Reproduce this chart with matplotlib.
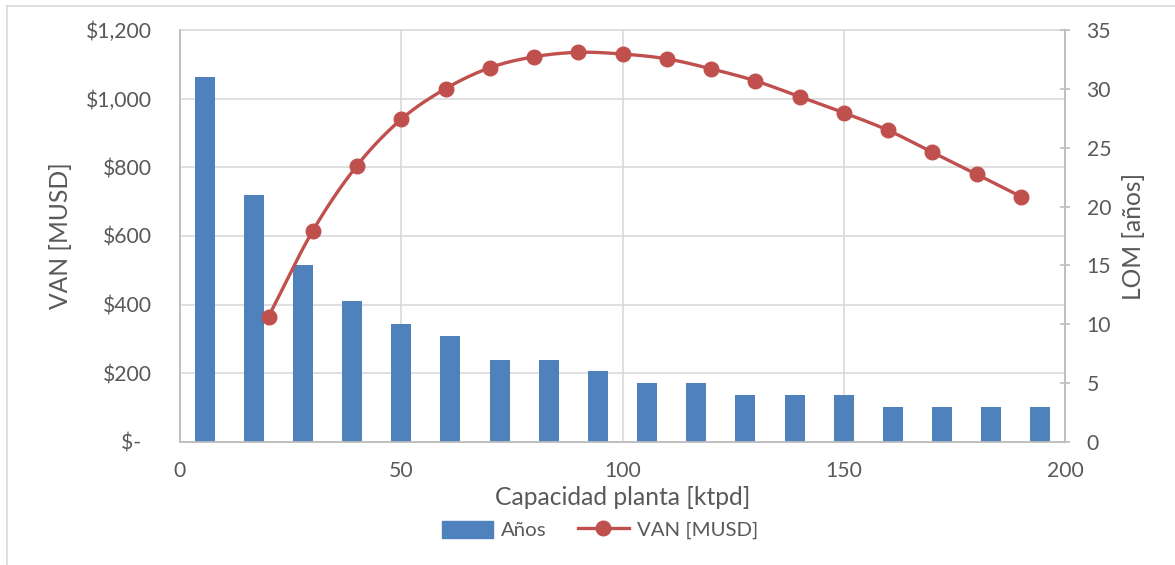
import numpy as np
import matplotlib
matplotlib.use("Agg")
import matplotlib.pyplot as plt
from matplotlib import transforms
from matplotlib.lines import Line2D
from matplotlib.patches import Patch

plt.rcParams['font.family'] = ['Lato', 'DejaVu Sans']

# ---- data ----
anos = [31, 21, 15, 12, 10, 9, 7, 7, 6, 5, 5, 4, 4, 4, 3, 3, 3, 3]
capacidad = [20, 30, 40, 50, 60, 70, 80, 90, 100, 110, 120, 130, 140, 150, 160, 170, 180, 190]
van = [365, 615, 805, 940, 1029, 1090, 1122, 1135, 1130, 1116, 1087, 1052, 1006, 959, 908, 844, 780, 715]
x_ticks = [0, 50, 100, 150, 200]
van_ticks = [0, 200, 400, 600, 800, 1000, 1200]
van_tick_labels = ['$-  ', '$200', '$400', '$600', '$800', '$1,000', '$1,200']
lom_ticks = [0, 5, 10, 15, 20, 25, 30, 35]

BAR = '#4F81BD'
RED = '#C0504D'
TXT = '#595959'
GRID = '#D9D9D9'
SPINE = '#BFBFBF'

fig = plt.figure(figsize=(11.75, 5.65), dpi=100)
fig.patch.set_facecolor('white')
# outer chart border (partially visible)
fig.add_artist(Line2D([7/1175, 7/1175], [0, 1-6/565], color=GRID, lw=1.2, transform=fig.transFigure))
fig.add_artist(Line2D([7/1175, 1], [1-6/565, 1-6/565], color=GRID, lw=1.2, transform=fig.transFigure))

ax = fig.add_axes([180/1175, 1-442/565, (1065-180)/1175, (442-30)/565])  # bars / LOM
axv = ax.twinx()  # VAN line

# bars on evenly spaced category slots across 0-200
n = len(anos)
slot = 200 / n
bar_x = [(i + 0.5) * slot for i in range(n)]
ax.bar(bar_x, anos, width=slot * 0.405, color=BAR, zorder=3)

ax.set_xlim(0, 200)
ax.set_ylim(0, 35)
axv.set_ylim(0, 1200)

# gridlines (from VAN axis) under the bars
blend = transforms.blended_transform_factory(ax.transAxes, axv.transData)
for v in van_ticks[1:]:
    ax.plot([0, 1], [v, v], color=GRID, lw=1.2, transform=blend, zorder=1, clip_on=False)
for xv in x_ticks[1:-1]:
    ax.axvline(xv, color=GRID, lw=1.2, zorder=1)

# smoothed line (Catmull-Rom / Hermite like Excel smoothing)
P = np.column_stack([capacidad, van]).astype(float)
m = np.zeros_like(P)
m[1:-1] = (P[2:] - P[:-2]) / 2
m[0] = P[1] - P[0]
m[-1] = P[-1] - P[-2]
t = np.linspace(0, 1, 25)[:, None]
h00 = 2*t**3 - 3*t**2 + 1
h10 = t**3 - 2*t**2 + t
h01 = -2*t**3 + 3*t**2
h11 = t**3 - t**2
segs = []
for i in range(len(P) - 1):
    segs.append(h00*P[i] + h10*m[i] + h01*P[i+1] + h11*m[i+1])
curve = np.vstack(segs)
axv.plot(curve[:, 0], curve[:, 1], color=RED, lw=2.4, solid_capstyle='round', zorder=4)
axv.plot(capacidad, van, 'o', color=RED, ms=10.5, zorder=5)

# axes styling
ax.yaxis.tick_right()
ax.yaxis.set_label_position('right')
axv.yaxis.tick_left()
axv.yaxis.set_label_position('left')

ax.set_yticks(lom_ticks)
ax.tick_params(axis='y', direction='inout', length=7, width=1.2, color=SPINE, pad=12,
               labelsize=15.2, labelcolor=TXT)
ax.set_xticks(x_ticks)
ax.tick_params(axis='x', length=0, pad=14, labelsize=15.2, labelcolor=TXT)

axv.set_yticks(van_ticks)
axv.set_yticklabels(van_tick_labels)
axv.tick_params(axis='y', length=0, pad=20, labelsize=15.2, labelcolor=TXT)

for a in (ax, axv):
    a.spines['top'].set_visible(False)
    for s in ('left', 'right', 'bottom'):
        a.spines[s].set_color(SPINE)
        a.spines[s].set_linewidth(1.2)

ax.set_ylabel('LOM [años]', fontsize=17.7, color=TXT, labelpad=8)
axv.set_ylabel('VAN [MUSD]', fontsize=17.7, color=TXT, labelpad=10)
ax.set_xlabel('Capacidad planta [ktpd]', fontsize=17.7, color=TXT, labelpad=3)

handles = [Patch(color=BAR, label='Años'),
           Line2D([0], [0], color=RED, lw=2.4, marker='o', ms=10.5, label='VAN [MUSD]')]
fig.legend(handles=handles, loc='center', bbox_to_anchor=(600/1175, 1-530/565), ncol=2,
           frameon=False, fontsize=14.7, handlelength=2.5, handleheight=0.9,
           columnspacing=1.5, handletextpad=0.4, labelcolor=TXT)

fig.savefig('out.png', dpi=100, facecolor='white')
